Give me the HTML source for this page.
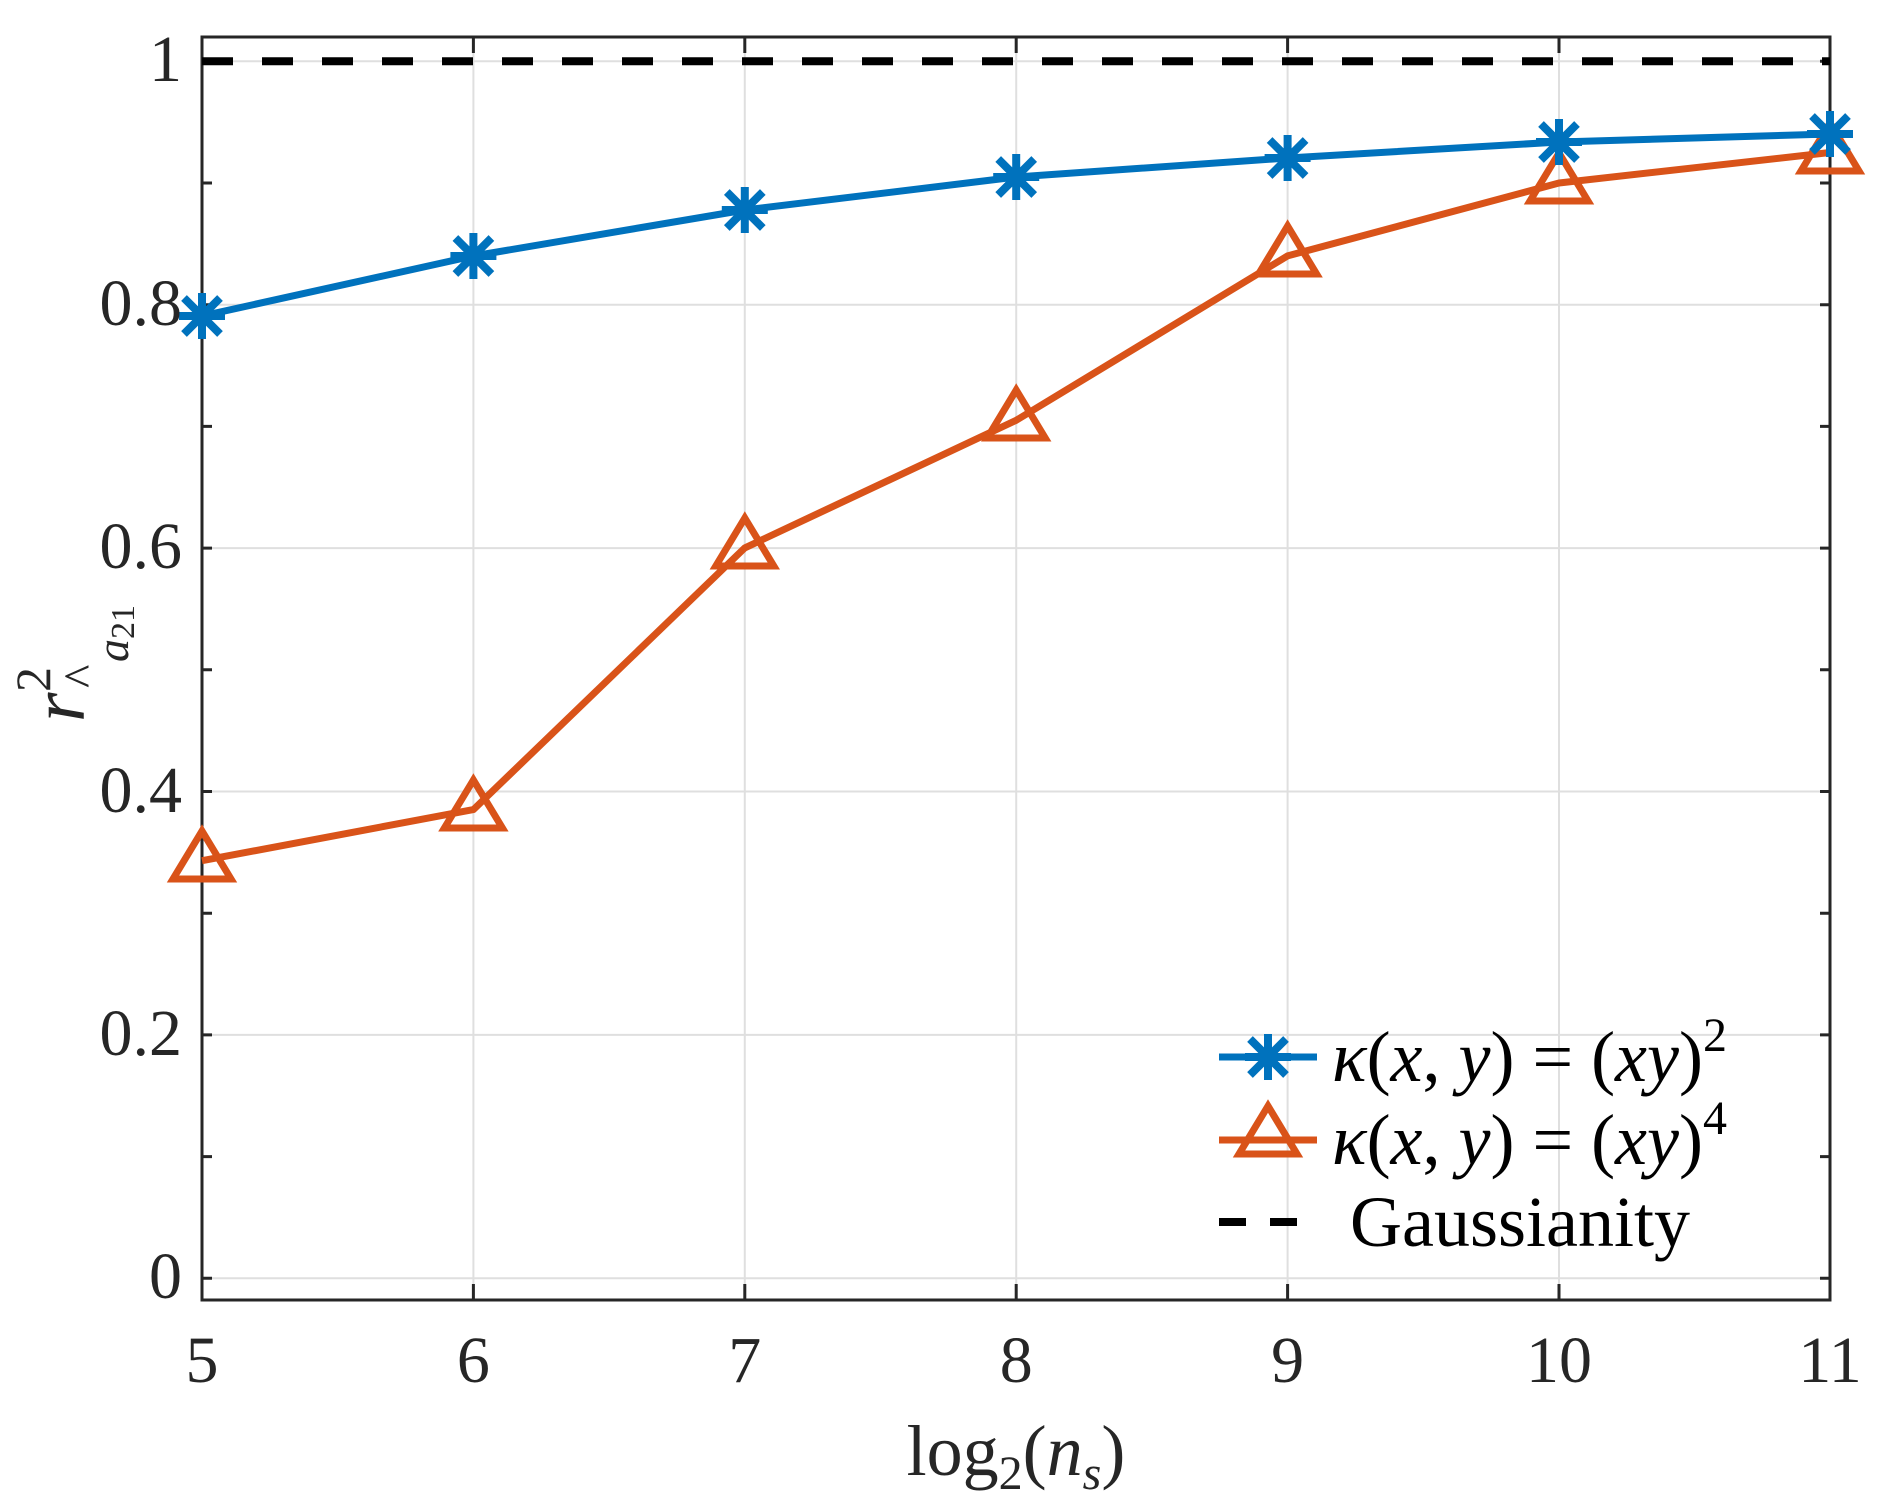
<!DOCTYPE html>
<html><head><meta charset="utf-8"><style>
html,body{margin:0;padding:0;background:#fff}
svg{display:block}
text{font-family:"Liberation Serif",serif;fill:#262626}
</style></head><body>
<svg width="1879" height="1509" viewBox="0 0 1879 1509" xmlns="http://www.w3.org/2000/svg">
<rect width="1879" height="1509" fill="#fff"/>
<g stroke="#dfdfdf" stroke-width="2">
<line x1="473.4" y1="37" x2="473.4" y2="1300"/>
<line x1="744.8" y1="37" x2="744.8" y2="1300"/>
<line x1="1016.2" y1="37" x2="1016.2" y2="1300"/>
<line x1="1287.6" y1="37" x2="1287.6" y2="1300"/>
<line x1="1559" y1="37" x2="1559" y2="1300"/>
<line x1="202" y1="61.3" x2="1830" y2="61.3"/>
<line x1="202" y1="304.7" x2="1830" y2="304.7"/>
<line x1="202" y1="548.1" x2="1830" y2="548.1"/>
<line x1="202" y1="791.5" x2="1830" y2="791.5"/>
<line x1="202" y1="1034.9" x2="1830" y2="1034.9"/>
<line x1="202" y1="1278.3" x2="1830" y2="1278.3"/>
</g>
<g stroke="#262626" stroke-width="3">
<path d="M202 61.3h10M202 183h10M202 304.7h10M202 426.4h10M202 548.1h10M202 669.8h10M202 791.5h10M202 913.2h10M202 1034.9h10M202 1156.6h10M202 1278.3h10"/>
<path d="M1830 61.3h-10M1830 183h-10M1830 304.7h-10M1830 426.4h-10M1830 548.1h-10M1830 669.8h-10M1830 791.5h-10M1830 913.2h-10M1830 1034.9h-10M1830 1156.6h-10M1830 1278.3h-10"/>
<path d="M473.4 1300v-16M744.8 1300v-16M1016.2 1300v-16M1287.6 1300v-16M1559 1300v-16"/>
<path d="M473.4 37v16M744.8 37v16M1016.2 37v16M1287.6 37v16M1559 37v16"/>
</g>
<rect x="202" y="37" width="1628" height="1263" fill="none" stroke="#262626" stroke-width="3"/>
<line x1="202" y1="61.3" x2="1830" y2="61.3" stroke="#000" stroke-width="8" stroke-dasharray="31,29"/>
<polyline fill="none" stroke="#D95319" stroke-width="7" stroke-linejoin="round" points="202,860.7 473.4,809.6 744.8,547.9 1016.2,420.3 1287.6,255.9 1559,183 1830,152.5"/>
<g fill="none" stroke="#D95319" stroke-width="7" stroke-linejoin="miter">
<path d="M202 831 l-29 48 h58z"/><path d="M473.4 780 l-29 48 h58z"/><path d="M744.8 518 l-29 48 h58z"/><path d="M1016.2 390 l-29 48 h58z"/><path d="M1287.6 226 l-29 48 h58z"/><path d="M1559 153 l-29 48 h58z"/><path d="M1830 123 l-29 48 h58z"/>
</g>
<polyline fill="none" stroke="#0072BD" stroke-width="7" stroke-linejoin="round" points="202,316 473.4,256 744.8,210 1016.2,177 1287.6,158 1559,142 1830,134"/>
<g stroke="#0072BD" stroke-width="8">
<path d="M-23 0h46M0 -23v46M-18 -18l36 36M-18 18l36 -36" transform="translate(202,316)"/>
<path d="M-23 0h46M0 -23v46M-18 -18l36 36M-18 18l36 -36" transform="translate(473.4,256)"/>
<path d="M-23 0h46M0 -23v46M-18 -18l36 36M-18 18l36 -36" transform="translate(744.8,210)"/>
<path d="M-23 0h46M0 -23v46M-18 -18l36 36M-18 18l36 -36" transform="translate(1016.2,177)"/>
<path d="M-23 0h46M0 -23v46M-18 -18l36 36M-18 18l36 -36" transform="translate(1287.6,158)"/>
<path d="M-23 0h46M0 -23v46M-18 -18l36 36M-18 18l36 -36" transform="translate(1559,142)"/>
<path d="M-23 0h46M0 -23v46M-18 -18l36 36M-18 18l36 -36" transform="translate(1830,134)"/>
</g>
<g font-size="66" text-anchor="end">
<text x="182" y="81">1</text>
<text x="182" y="325">0.8</text>
<text x="182" y="568">0.6</text>
<text x="182" y="812">0.4</text>
<text x="182" y="1055">0.2</text>
<text x="182" y="1298">0</text>
</g>
<g font-size="66" text-anchor="middle">
<text x="202" y="1382">5</text>
<text x="473.4" y="1382">6</text>
<text x="744.8" y="1382">7</text>
<text x="1016.2" y="1382">8</text>
<text x="1287.6" y="1382">9</text>
<text x="1559" y="1382">10</text>
<text x="1830" y="1382">11</text>
</g>
<text x="1016" y="1475" font-size="72" text-anchor="middle">log<tspan font-size="48" dy="14">2</tspan><tspan dy="-14">(</tspan><tspan font-style="italic">n</tspan><tspan font-style="italic" font-size="48" dy="14">s</tspan><tspan dy="-14">)</tspan></text>
<g transform="translate(84,722) rotate(-90)">
<text x="0" y="0" font-size="76" font-style="italic">r</text>
<text x="30" y="-34" font-size="50">2</text>
<text x="34" y="14" font-size="50">^</text>
<text x="60" y="44" font-size="46" font-style="italic">a<tspan font-style="normal" font-size="34" dy="6">21</tspan></text>
</g>
<line x1="1219" y1="1057" x2="1317" y2="1057" stroke="#0072BD" stroke-width="7"/>
<path d="M-23 0h46M0 -23v46M-18 -18l36 36M-18 18l36 -36" transform="translate(1268,1057)" stroke="#0072BD" stroke-width="8"/>
<line x1="1219" y1="1140" x2="1317" y2="1140" stroke="#D95319" stroke-width="7"/>
<path d="M1268 1106 l-29 48 h58z" fill="none" stroke="#D95319" stroke-width="7"/>
<line x1="1219" y1="1222" x2="1317" y2="1222" stroke="#000" stroke-width="8" stroke-dasharray="27,24"/>
<g font-size="72">
<text x="1332" y="1081" style="fill:#000"><tspan font-style="italic">κ</tspan>(<tspan font-style="italic">x</tspan>, <tspan font-style="italic">y</tspan>) = (<tspan font-style="italic">xy</tspan>)<tspan font-size="48" dy="-30">2</tspan></text>
<text x="1332" y="1164" style="fill:#000"><tspan font-style="italic">κ</tspan>(<tspan font-style="italic">x</tspan>, <tspan font-style="italic">y</tspan>) = (<tspan font-style="italic">xy</tspan>)<tspan font-size="48" dy="-30">4</tspan></text>
<text x="1350" y="1246" style="fill:#000">Gaussianity</text>
</g>
</svg>
</body></html>
